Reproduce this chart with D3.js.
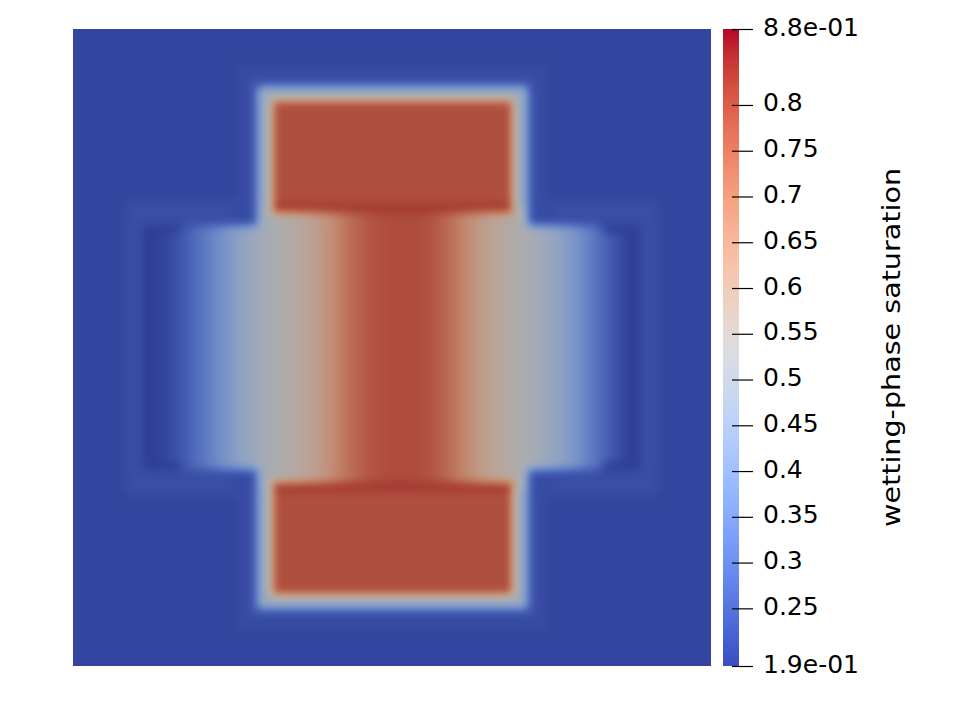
<!DOCTYPE html>
<html><head><meta charset="utf-8">
<script src="https://cdn.jsdelivr.net/npm/d3@7"></script>
<style>body{margin:0;background:#fff}svg{display:block}</style>
</head><body>
<svg id="chart" width="978" height="708"></svg>
<script>
// ---------------- data ----------------
const satMin = 0.187, satMax = 0.883;
const colorbarTicks = [0.25, 0.3, 0.35, 0.4, 0.45, 0.5, 0.55, 0.6, 0.65, 0.7, 0.75, 0.8];
const colorbarTickLabels = ["0.25","0.3","0.35","0.4","0.45","0.5","0.55","0.6","0.65","0.7","0.75","0.8"];
const rangeLabels = ["1.9e-01", "8.8e-01"];
const fieldTitle = "wetting-phase saturation";

// saturation field (domain [0,1] x [0,1], y upward)
const backgroundSaturation = 0.205;
// uniform regions: [x0, x1, y0, y1, saturation], painted in order
const haloRegions = [
  [0.082, 0.918, 0.268, 0.732, 0.224],
  [0.255, 0.746, 0.667, 0.944, 0.215],
  [0.255, 0.746, 0.056, 0.333, 0.215],
  [0.274, 0.727, 0.686, 0.925, 0.232],
  [0.274, 0.727, 0.075, 0.314, 0.232]
];
const rimRegions = [
  [0.290, 0.712, 0.702, 0.909, 0.49],
  [0.290, 0.712, 0.091, 0.298, 0.49]
];
// central band: column saturations across x, for two vertical spans
const bandX = [0.110, 0.889];
const bandSpans = [[0.309, 0.691], [0.280, 0.720]];
const bandSpanX = [[0.110, 0.889], [0.290, 0.712]];
const bandSaturation = [
  0.187, 0.198, 0.212, 0.235, 0.262, 0.295, 0.330, 0.365, 0.400, 0.435,
  0.465, 0.490, 0.512, 0.530, 0.547, 0.563, 0.585, 0.610, 0.640, 0.680,
  0.720, 0.750, 0.770, 0.785, 0.792, 0.795, 0.795, 0.792, 0.785, 0.770,
  0.745, 0.710, 0.670, 0.635, 0.605, 0.580, 0.560, 0.545, 0.528, 0.505,
  0.482, 0.455, 0.425, 0.390, 0.350, 0.310, 0.270, 0.235, 0.205, 0.187
];
// dark corner arms of the band's side brackets
const bracketRegions = [
  [0.110, 0.170, 0.680, 0.692, 0.190],
  [0.110, 0.170, 0.308, 0.320, 0.190],
  [0.829, 0.889, 0.680, 0.692, 0.190],
  [0.829, 0.889, 0.308, 0.320, 0.190]
];
const blockRegions = [
  [0.312, 0.690, 0.711, 0.889, 0.790],
  [0.312, 0.690, 0.111, 0.289, 0.790],
  [0.312, 0.690, 0.711, 0.725, 0.830],
  [0.312, 0.690, 0.275, 0.289, 0.830]
];

// cool-to-warm colour map (33 stops)
const coolWarm = [
  [59,76,192],[68,90,204],[77,104,215],[87,117,225],[98,130,234],[108,142,241],
  [119,154,247],[130,165,251],[141,176,254],[152,185,255],[163,194,255],[174,201,253],
  [184,208,249],[194,213,244],[204,217,238],[213,219,230],[221,221,221],[229,216,209],
  [236,211,197],[241,204,185],[245,196,173],[247,187,160],[247,177,148],[247,166,135],
  [244,154,123],[241,141,111],[236,127,99],[229,112,88],[222,96,77],[213,80,66],
  [203,62,56],[192,40,47],[180,4,38]
];
const shade = 0.78;

// ---------------- drawing ----------------
const svg = d3.select("#chart");
const plot = {left: 73, top: 29, right: 711, bottom: 666};
const xS = d3.scaleLinear().domain([0, 1]).range([plot.left, plot.right]);
const yS = d3.scaleLinear().domain([0, 1]).range([plot.bottom, plot.top]);
const stopVals = coolWarm.map((c, i) => satMin + (satMax - satMin) * i / (coolWarm.length - 1));
const color = d3.scaleLinear().domain(stopVals)
  .range(coolWarm.map(c => d3.rgb(c[0], c[1], c[2]).formatRgb())).interpolate(d3.interpolateRgb).clamp(true);

const gw = plot.right - plot.left, gh = plot.bottom - plot.top;
const grid = new Float32Array(gw * gh).fill(backgroundSaturation);
function paint(x0, x1, y0, y1, fn) {
  const c0 = Math.max(0, Math.round(xS(x0)) - plot.left), c1 = Math.min(gw, Math.round(xS(x1)) - plot.left);
  const r0 = Math.max(0, Math.round(yS(y1)) - plot.top), r1 = Math.min(gh, Math.round(yS(y0)) - plot.top);
  for (let r = r0; r < r1; r++) for (let c = c0; c < c1; c++) grid[r * gw + c] = fn(c);
}
haloRegions.forEach(d => paint(d[0], d[1], d[2], d[3], () => d[4]));
rimRegions.forEach(d => paint(d[0], d[1], d[2], d[3], () => d[4]));
const bandCol = d3.scaleQuantize().domain(bandX).range(bandSaturation);
bandSpans.forEach((s, i) => paint(bandSpanX[i][0], bandSpanX[i][1], s[0], s[1],
  c => bandCol(xS.invert(c + plot.left + 0.5))));
bracketRegions.forEach(d => paint(d[0], d[1], d[2], d[3], () => d[4]));
blockRegions.forEach(d => paint(d[0], d[1], d[2], d[3], () => d[4]));

// smoothing of the cell field (box blur, 3 passes)
function blurPass(src, dst, w, h, rad, horiz) {
  const n = horiz ? w : h, m = horiz ? h : w;
  for (let j = 0; j < m; j++) {
    const idx = k => horiz ? j * w + Math.min(n - 1, Math.max(0, k)) : Math.min(n - 1, Math.max(0, k)) * w + j;
    let sum = 0;
    for (let k = -rad; k <= rad; k++) sum += src[idx(k)];
    for (let k = 0; k < n; k++) {
      dst[horiz ? j * w + k : k * w + j] = sum / (2 * rad + 1);
      sum += src[idx(k + rad + 1)] - src[idx(k - rad)];
    }
  }
}
let a = grid, b = new Float32Array(gw * gh);
for (let p = 0; p < 3; p++) { blurPass(a, b, gw, gh, 4, true); blurPass(b, a, gw, gh, 4, false); }

// colour lookup table through the colour scale
const lutN = 1024;
const lut = d3.range(lutN).map(i => d3.rgb(color(satMin + (satMax - satMin) * i / (lutN - 1))));
const canvas = document.createElement("canvas");
canvas.width = gw; canvas.height = gh;
const ctx = canvas.getContext("2d");
const img = ctx.createImageData(gw, gh);
for (let i = 0; i < gw * gh; i++) {
  let k = Math.round((a[i] - satMin) / (satMax - satMin) * (lutN - 1));
  k = Math.max(0, Math.min(lutN - 1, k));
  const c = lut[k];
  img.data[4 * i] = c.r * shade; img.data[4 * i + 1] = c.g * shade; img.data[4 * i + 2] = c.b * shade; img.data[4 * i + 3] = 255;
}
ctx.putImageData(img, 0, 0);
svg.append("image").attr("x", plot.left).attr("y", plot.top).attr("width", gw).attr("height", gh)
  .attr("href", canvas.toDataURL());

// colour bar
const cb = {x: 723, w: 16};
const cbScale = d3.scaleLinear().domain([satMin, satMax]).range([plot.bottom, plot.top]);
const grad = svg.append("defs").append("linearGradient").attr("id", "cbg")
  .attr("x1", 0).attr("y1", 1).attr("x2", 0).attr("y2", 0);
grad.selectAll("stop").data(coolWarm).join("stop")
  .attr("offset", (d, i) => i / (coolWarm.length - 1))
  .attr("stop-color", d => d3.rgb(d[0], d[1], d[2]));
svg.append("rect").attr("x", cb.x).attr("y", cbScale(satMax)).attr("width", cb.w)
  .attr("height", cbScale(satMin) - cbScale(satMax)).attr("fill", "url(#cbg)");

const allTicks = [satMin, ...colorbarTicks, satMax];
const allLabels = [rangeLabels[0], ...colorbarTickLabels, rangeLabels[1]];
const axis = d3.axisRight(cbScale).tickValues(allTicks).tickSize(21).tickPadding(10)
  .tickFormat((d, i) => allLabels[i]);
const ax = svg.append("g").attr("transform", "translate(732,0)").call(axis);
ax.select(".domain").remove();
ax.selectAll("line").attr("stroke", "#000").attr("stroke-width", 1.2);
ax.selectAll("text").attr("font-family", "DejaVu Sans").attr("font-size", 25)
  .attr("fill", "#000").attr("dy", "0.24em");

svg.append("text").attr("transform", "translate(900,347.5) rotate(-90)")
  .attr("text-anchor", "middle").attr("font-family", "DejaVu Sans").attr("font-size", 25)
  .attr("fill", "#000").attr("textLength", 359).attr("lengthAdjust", "spacingAndGlyphs")
  .text(fieldTitle);
</script>
</body></html>
